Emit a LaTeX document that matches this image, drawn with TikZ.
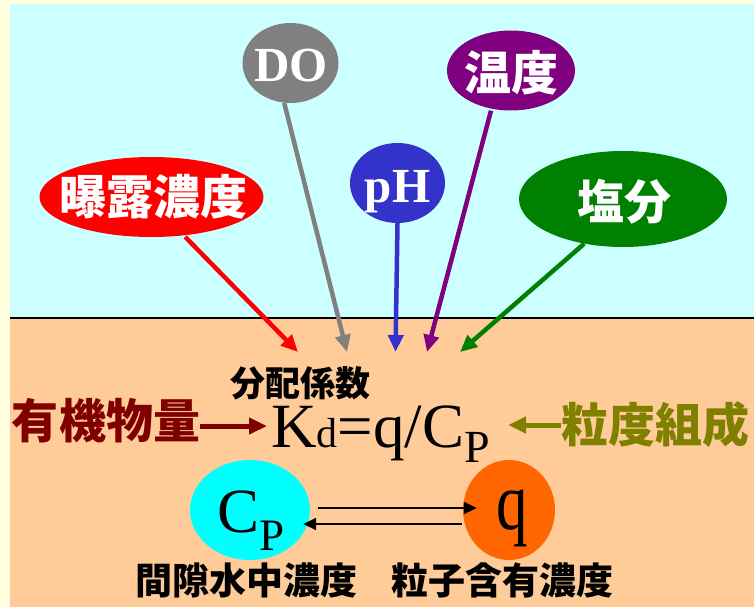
\documentclass[tikz,border=0pt]{standalone}
\usepackage{fontspec}
\setmainfont{Liberation Serif}
\newfontfamily\cjk{Noto Sans CJK JP}
\usetikzlibrary{shapes.geometric,arrows.meta,calc}
\definecolor{outerbg}{HTML}{FFFFE0}
\definecolor{skyc}{HTML}{CCFFFF}
\definecolor{soilc}{HTML}{FFCC99}
\definecolor{expoc}{HTML}{FF0000}
\definecolor{doc}{HTML}{808080}
\definecolor{tempc}{HTML}{800080}
\definecolor{phc}{HTML}{3333CC}
\definecolor{saltc}{HTML}{008000}
\definecolor{orgc}{HTML}{800000}
\definecolor{grainc}{HTML}{808000}
\definecolor{cpc}{HTML}{00FFFF}
\definecolor{qc}{HTML}{FF6600}
\begin{document}
\begin{tikzpicture}[x=1pt,y=-1pt,
  bubble/.style={ellipse,inner sep=0pt,draw=none},
  wlab/.style={text=white,inner sep=0pt,font=\cjk\bfseries\fontsize{47}{47}\selectfont},
  feed/.style={line width=4.5pt,-{Triangle[length=17pt,width=15pt]}},
  side/.style={line width=5pt,-{Triangle[length=18pt,width=16pt]}},
  exch/.style={line width=1.7pt,-{Triangle[length=13pt,width=12pt]}},
  blab/.style={inner sep=0pt,font=\cjk\bfseries\fontsize{37}{37}\selectfont}]
\useasboundingbox (0,0) rectangle (754,607);
\fill[outerbg] (0,0) rectangle (754,607);
\fill[skyc] (10,4) rectangle (754,318);
\fill[soilc] (10,318) rectangle (754,607);
\draw[line width=1.5pt] (10,318) -- (754,318);

% bubbles
\node[bubble,fill=expoc,minimum width=224pt,minimum height=80pt] (expo) at (151.5,197) {};
\node[bubble,fill=doc,minimum width=96pt,minimum height=80pt] (do) at (290.5,63) {};
\node[bubble,fill=tempc,minimum width=128pt,minimum height=80pt] (temp) at (511,70.5) {};
\node[bubble,fill=phc,minimum width=95pt,minimum height=80pt] (ph) at (397.5,183) {};
\node[bubble,fill=saltc,minimum width=208pt,minimum height=96pt] (salt) at (623,199) {};

\node[wlab] (expot) at (153,197) {曝露濃度};
\node[wlab] (tempt) at (511,73) {温度};
\node[wlab] (saltt) at (624,202) {塩分};
\node[text=white,inner sep=0pt,anchor=base,font=\bfseries\fontsize{49}{49}\selectfont] (dot) at (291,82) {DO};
\node[text=white,inner sep=0pt,anchor=base,font=\bfseries\fontsize{49}{49}\selectfont] (pht) at (397.5,202) {pH};

% arrow tips
\coordinate (t1) at (298,352);
\coordinate (t2) at (347,352);
\coordinate (t3) at (395.5,352);
\coordinate (t4) at (427,352);
\coordinate (t5) at (460,352);
\draw[feed,expoc,shorten <=2pt] (expo.310.6) -- (t1);
\draw[feed,doc] (do.261.7) -- (t2);
\draw[feed,phc] (ph.south) -- (t3);
\draw[feed,tempc,shorten <=2pt] (temp.243.7) -- (t4);
\draw[feed,saltc] (salt.229.1) -- (t5);

% formula
\node[inner sep=0pt,font=\cjk\bfseries\fontsize{35}{35}\selectfont] (kdlab) at (300,383) {分配係数};
\node[anchor=base west,inner sep=0pt,text height=42pt] (kd) at (271,447) {\fontsize{63}{63}\selectfont K\fontsize{42}{42}\selectfont d\fontsize{63}{63}\selectfont =q/C\raisebox{-15pt}{\fontsize{46}{46}\selectfont P}};

\node[inner sep=0pt,text=orgc,font=\cjk\bfseries\fontsize{47}{47}\selectfont] (org) at (106,420.5) {有機物量};
\node[inner sep=0pt,text=grainc,font=\cjk\bfseries\fontsize{47}{47}\selectfont] (grain) at (655,425) {粒度組成};
\coordinate (a1) at (267,426);
\coordinate (a2) at (508,425);
\draw[side,orgc] (org.east |- a1) -- (a1);
\draw[side,grainc] (grain.west |- a2) -- (a2);

% exchange
\node[bubble,fill=cpc,minimum width=120pt,minimum height=100pt] (cp) at (250,510) {};
\node[bubble,fill=qc,minimum width=92pt,minimum height=100pt] (q) at (509,510) {};
\node[anchor=base west,inner sep=0pt] (cpt) at (217,532) {\fontsize{63}{63}\selectfont C\raisebox{-18pt}{\fontsize{45}{45}\selectfont P}};
\node[anchor=base west,inner sep=0pt] (qt) at (496,529) {\scalebox{1}[1.3]{\fontsize{63}{63}\selectfont q}};
\draw[exch] ($(cp.east)+(8,-2)$) -- ($(q.west)+(14,-2)$);
\draw[exch] ($(q.west)+(-1,14)$) -- ($(cp.east)+(-7,14)$);

\node[blab] (cplab) at (246,580) {間隙水中濃度};
\node[blab] (qlab) at (502.5,580) {粒子含有濃度};
\end{tikzpicture}
\end{document}
